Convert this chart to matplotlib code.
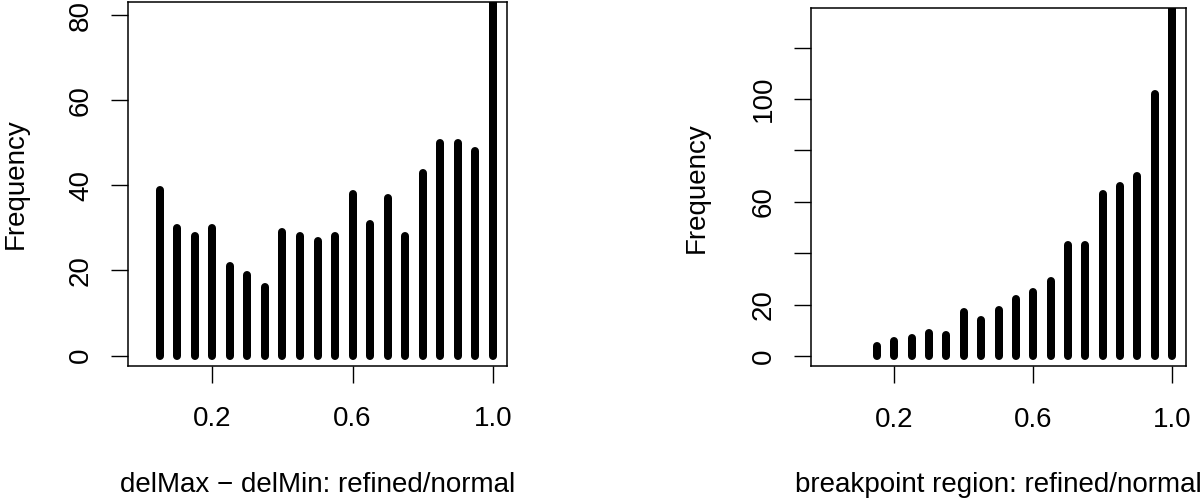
import matplotlib
matplotlib.use("Agg")
import matplotlib.pyplot as plt
import numpy as np

plt.rcParams['font.family'] = ['Liberation Sans', 'DejaVu Sans']

# Left panel: delMax - delMin ratio (refined/normal)
left_x = [0.05, 0.10, 0.15, 0.20, 0.25, 0.30, 0.35, 0.40, 0.45, 0.50,
          0.55, 0.60, 0.65, 0.70, 0.75, 0.80, 0.85, 0.90, 0.95, 1.00]
left_freq = [39, 30, 28, 30, 21, 19, 16, 29, 28, 27,
             28, 38, 31, 37, 28, 43, 50, 50, 48, 90]

# Right panel: breakpoint region ratio (refined/normal)
right_x = [0.15, 0.20, 0.25, 0.30, 0.35, 0.40, 0.45, 0.50, 0.55,
           0.60, 0.65, 0.70, 0.75, 0.80, 0.85, 0.90, 0.95, 1.00]
right_freq = [4, 6, 7, 9, 8, 17, 14, 18, 22,
              25, 29, 43, 43, 63, 66, 70, 102, 140]

x_ticks = [0.2, 0.6, 1.0]
x_tick_labels = ["0.2", "0.6", "1.0"]
left_yticks = [0, 20, 40, 60, 80]
left_ytick_labels = ["0", "20", "40", "60", "80"]
right_yticks = [0, 20, 40, 60, 80, 100, 120]
right_ytick_labels = ["0", "20", "", "60", "", "100", ""]

left_xlabel = "delMax \u2212 delMin: refined/normal"
right_xlabel = "breakpoint region: refined/normal"
ylabel = "Frequency"

W, H = 1200, 501
fig = plt.figure(figsize=(W / 100, H / 100), dpi=100)

FS = 20
px = 72 / 100  # points per pixel


def make_axes(l, r, t, b):
    return fig.add_axes([l / W, 1 - b / H, (r - l) / W, (b - t) / H])


def style(ax, xs, ys, yt, ytl, ylim, xlabel, lab_x, ylab_x):
    ax.vlines(xs, 0, ys, colors='black', linewidth=8 * px, capstyle='round')
    ax.set_xlim(-0.04, 1.04)
    ax.set_ylim(*ylim)
    ax.set_xticks(x_ticks)
    ax.set_xticklabels(x_tick_labels, fontsize=FS)
    ax.set_yticks(yt)
    ax.set_yticklabels(ytl, fontsize=FS, rotation=90, va='center')
    ax.tick_params(axis='x', direction='out', length=17 * px, width=1.0,
                   pad=24 * px)
    ax.tick_params(axis='y', direction='out', length=17 * px, width=1.0,
                   pad=17 * px)
    for s in ax.spines.values():
        s.set_linewidth(1.1)
    pos = ax.get_position()
    cx = (pos.x0 + pos.x1) / 2
    cy = (pos.y0 + pos.y1) / 2
    fig.text(cx, 1 - 492 / H, xlabel, fontsize=FS, ha='center', va='baseline')
    fig.text(ylab_x / W, cy, ylabel, fontsize=FS, rotation=90,
             ha='right', va='center')


ax1 = make_axes(128, 507, 2, 365.5)
style(ax1, left_x, left_freq, left_yticks, left_ytick_labels,
      (-2.35, 83.1), left_xlabel, None, 29)

ax2 = make_axes(811, 1186, 8.3, 366)
style(ax2, right_x, right_freq, right_yticks, right_ytick_labels,
      (-3.9, 135.3), right_xlabel, None, 710)

fig.savefig("out.png", dpi=100)
